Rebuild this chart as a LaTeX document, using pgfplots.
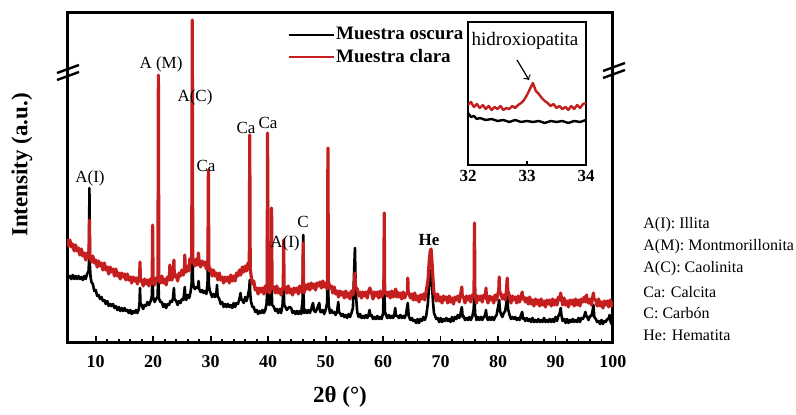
\documentclass[border=0pt]{standalone}
\usepackage{fontspec}
\setmainfont{Liberation Serif}
\usepackage{pgfplots}
\pgfplotsset{compat=1.18}
\usepackage{pgfplotstable}
\definecolor{redc}{RGB}{196,30,30}

\pgfplotstableread{
x y
32.00 60
32.05 63
32.10 58
32.15 61
32.20 57
32.25 60
32.30 56
32.35 59
32.40 55
32.45 58
32.50 56
32.55 59
32.60 55
32.65 57
32.70 56
32.75 59
32.80 57
32.85 60
32.90 62
32.95 65
33.00 70
33.05 76
33.10 82
33.15 74
33.20 71
33.25 67
33.30 64
33.35 62
33.40 59
33.45 61
33.50 57
33.55 59
33.60 56
33.65 58
33.70 55
33.75 59
33.80 56
33.85 60
33.90 57
33.95 61
34.00 62
}\redinset

\pgfplotstableread{
x y
32.00 52
32.05 48
32.10 49
32.15 46
32.20 47
32.30 45
32.40 46
32.50 44
32.60 45
32.70 43
32.80 45
32.90 43
33.00 44
33.10 43
33.20 44
33.30 42
33.40 44
33.50 43
33.60 44
33.70 42
33.80 44
33.90 43
34.00 45
}\blackinset

\begin{document}
\begin{tikzpicture}
\begin{scope}[x=0.5pt,y=-0.5pt,shift={(-33.5pt,171.5pt)}]
\useasboundingbox (0,0) rectangle (796,406);
\end{scope}

\begin{axis}[
  at={(0pt,0pt)}, anchor=south west,
  scale only axis, width=273pt, height=165pt,
  xmin=5, xmax=100, ymin=0, ymax=330,
  axis line style={line width=1.5pt},
  xtick={10,20,...,100}, minor x tick num=4,
  xtick pos=left, ytick=\empty,
  tick align=inside,
  major tick length=3.5pt, minor tick length=2pt,
  every tick/.style={black, line width=0.9pt},
  /pgf/number format/assume math mode=true,
  xticklabel style={font=\bfseries\fontsize{9}{10}\selectfont, yshift=-2.5pt},
  legend style={draw=none, fill=none, at={(axis description cs:0.403,0.962)}, anchor=north west,
    inner sep=0pt, row sep=2pt, nodes={inner sep=0.6pt}, font=\bfseries\fontsize{9.5}{10}\selectfont, cells={anchor=west}},
  legend image code/.code={\draw[#1, line width=1.3pt] (0pt,0pt) -- (22.5pt,0pt);},
]
\addplot[black, line width=1.3pt, line join=round] coordinates {
(5.00,68) (5.25,65) (5.50,67) (5.75,64) (6.00,68) (6.25,64) (6.50,67) (6.75,64)
(7.00,67) (7.25,64) (7.50,66) (7.75,63) (8.00,67) (8.25,64) (8.50,69) (8.75,72)
(8.82,80) (8.90,155) (8.98,78) (9.10,66) (9.25,61) (9.50,59) (9.75,52)
(10.00,53) (10.25,47) (10.50,48) (10.75,44) (11.00,46) (11.25,42) (11.50,43) (11.75,39)
(12.00,42) (12.25,37) (12.50,39) (12.75,37) (13.00,39) (13.25,35) (13.50,37) (13.75,33)
(14.00,36) (14.25,32) (14.50,35) (14.75,32) (15.00,35) (15.25,32) (15.50,33) (15.75,30)
(16.00,33) (16.25,29) (16.50,32) (16.75,30) (17.00,33) (17.25,30) (17.50,34)
(17.62,40) (17.70,55) (17.78,40) (18.00,38) (18.25,34) (18.50,38) (18.75,37)
(19.00,41) (19.25,38) (19.50,41) (19.75,46) (19.90,70) (19.98,46) (20.25,41) (20.50,44)
(20.75,46) (20.90,70) (20.98,45) (21.25,41) (21.50,41) (21.75,36)
(22.00,39) (22.25,35) (22.50,39) (22.75,38) (23.00,42) (23.25,41) (23.45,45) (23.60,55) (23.70,44)
(24.00,42) (24.25,38) (24.50,42) (24.75,40) (25.00,44) (25.25,43) (25.50,56) (25.60,46) (25.75,43)
(26.00,48) (26.25,45) (26.50,51) (26.70,60) (26.80,126) (26.90,65) (27.00,57) (27.25,54) (27.50,56)
(27.75,55) (27.90,62) (28.00,54) (28.25,51) (28.50,53) (28.75,50) (29.00,52) (29.25,49)
(29.45,60) (29.60,103) (29.70,58) (29.85,52) (30.00,50) (30.25,46) (30.50,49) (30.75,46)
(31.00,50) (31.10,58) (31.20,47) (31.50,44) (31.75,39) (32.00,41) (32.25,36) (32.50,39) (32.75,36)
(33.00,39) (33.25,36) (33.50,38) (33.75,35) (34.00,40) (34.25,36) (34.50,40) (34.75,39)
(35.00,44) (35.20,50) (35.35,43) (35.50,43) (35.75,40) (36.00,46) (36.25,42) (36.50,48)
(36.72,55) (36.80,63) (36.88,50) (37.00,42) (37.25,36) (37.50,36) (37.75,31)
(38.00,33) (38.25,29) (38.50,32) (38.75,30) (39.00,33) (39.25,30) (39.50,33) (39.75,40)
(39.82,60) (39.90,175) (39.98,55) (40.20,38) (40.50,42) (40.60,56) (40.70,38)
(41.00,36) (41.25,32) (41.50,34) (41.75,30) (42.00,34) (42.25,30) (42.50,38) (42.70,58) (42.80,38)
(43.00,36) (43.25,33) (43.50,35) (43.75,36) (44.00,35) (44.25,30) (44.50,32) (44.75,29)
(45.00,32) (45.25,29) (45.50,32) (45.75,29) (46.02,45) (46.10,108) (46.18,45) (46.25,30) (46.50,33) (46.75,30)
(47.00,33) (47.25,30) (47.50,34) (47.80,40) (48.00,32) (48.25,31) (48.50,34) (48.75,38) (48.90,40) (49.05,31)
(49.25,31) (49.50,33) (49.75,29) (50.00,33) (50.25,40) (50.40,106) (50.50,40) (50.75,30)
(51.00,33) (51.25,30) (51.50,31) (51.75,28) (52.00,32) (52.20,41) (52.35,30) (52.50,30) (52.75,27)
(53.00,29) (53.25,26) (53.50,28) (53.75,25) (54.00,29) (54.25,26) (54.50,30) (54.75,35)
(54.95,70) (55.10,95) (55.25,50) (55.50,31) (55.75,26) (56.00,29) (56.25,25) (56.50,27) (56.75,25)
(57.00,28) (57.25,25) (57.50,29) (57.65,33) (57.80,27) (58.00,28) (58.25,24) (58.50,26) (58.75,24)
(59.00,27) (59.25,24) (59.50,26) (59.75,24) (60.00,30) (60.20,76) (60.30,32) (60.50,28) (60.75,25)
(61.00,28) (61.25,25) (61.50,27) (61.75,25) (62.00,30) (62.10,35) (62.25,27) (62.50,27) (62.75,25)
(63.00,28) (63.25,25) (63.50,27) (63.75,25) (64.00,29) (64.30,40) (64.45,27) (64.75,23)
(65.00,25) (65.25,22) (65.50,23) (65.75,20) (66.00,24) (66.25,20) (66.50,24) (66.75,22)
(67.00,26) (67.25,23) (67.50,27) (67.80,40) (68.00,58) (68.20,70) (68.35,73) (68.50,58) (68.70,40) (68.85,30)
(69.00,28) (69.25,24) (69.50,25) (69.75,21) (70.00,25) (70.25,21) (70.50,24) (70.75,22)
(71.00,25) (71.25,22) (71.50,24) (71.75,21) (72.00,26) (72.25,22) (72.50,26) (72.75,24)
(73.00,28) (73.25,25) (73.50,30) (73.70,36) (73.85,26) (74.00,27) (74.25,23) (74.50,25) (74.75,23)
(75.00,26) (75.25,23) (75.50,26) (75.75,33) (75.90,50) (76.00,30) (76.25,23) (76.50,26) (76.75,23)
(77.00,26) (77.25,23) (77.50,26) (77.75,28) (77.90,33) (78.05,25) (78.25,23) (78.50,26) (78.75,23)
(79.00,26) (79.25,23) (79.50,26) (79.75,28) (80.00,36) (80.20,43) (80.35,32) (80.50,29) (80.75,26)
(81.00,30) (81.25,32) (81.45,40) (81.60,46) (81.75,34) (82.00,28) (82.25,24) (82.50,26) (82.75,24)
(83.00,26) (83.25,23) (83.50,25) (83.75,23) (84.00,28) (84.20,31) (84.35,24) (84.50,25) (84.75,22)
(85.00,25) (85.25,22) (85.50,24) (85.75,21) (86.00,25) (86.25,21) (86.50,23) (86.75,21)
(87.00,24) (87.25,21) (87.50,23) (87.75,21) (88.00,25) (88.25,21) (88.50,23) (88.75,21)
(89.00,24) (89.25,21) (89.50,24) (89.75,21) (90.00,26) (90.25,22) (90.50,27) (90.75,30) (90.90,35) (91.05,27)
(91.25,22) (91.50,24) (91.75,20) (92.00,24) (92.25,20) (92.50,23) (92.75,21)
(93.00,24) (93.25,21) (93.50,23) (93.75,21) (94.00,25) (94.25,21) (94.50,25) (94.75,24)
(95.00,27) (95.20,31) (95.35,27) (95.50,26) (95.75,23) (96.00,27) (96.25,27) (96.45,32) (96.60,38) (96.75,26)
(97.00,24) (97.25,21) (97.50,22) (97.75,19) (98.00,23) (98.25,19) (98.50,22) (98.75,21)
(99.00,24) (99.25,24) (99.40,28) (99.55,22) (99.75,19) (100.00,22)
};
\addlegendentry{Muestra oscura}
\addplot[redc, line width=1.6pt, line join=round] coordinates {
(5.00,104) (5.25,97) (5.50,103) (5.75,96) (6.00,99) (6.25,92) (6.50,98) (6.75,92)
(7.00,95) (7.25,88) (7.50,94) (7.75,87) (8.00,90) (8.25,83) (8.50,90) (8.75,85)
(8.82,88) (8.90,123) (8.98,88) (9.25,81) (9.50,87) (9.75,80)
(10.00,83) (10.25,76) (10.50,82) (10.75,77) (11.00,80) (11.25,73) (11.50,80) (11.75,73)
(12.00,76) (12.25,69) (12.50,76) (12.75,71) (13.00,74) (13.25,67) (13.50,74) (13.75,67)
(14.00,70) (14.25,64) (14.50,70) (14.75,66) (15.00,69) (15.25,63) (15.50,69) (15.75,63)
(16.00,66) (16.25,60) (16.50,66) (16.75,62) (17.00,65) (17.25,59) (17.50,66)
(17.62,62) (17.70,81) (17.78,62) (18.00,63) (18.25,57) (18.50,64) (18.75,59)
(19.00,63) (19.25,57) (19.50,64) (19.75,59) (19.82,61) (19.90,118) (19.98,62)
(20.25,58) (20.50,65) (20.75,62) (20.82,64) (20.90,268) (20.98,64)
(21.25,60) (21.50,67) (21.75,60) (22.00,64) (22.25,58) (22.50,66) (22.75,63)
(22.82,66) (22.90,78) (22.98,64) (23.25,63) (23.50,70) (23.60,83) (23.68,66)
(24.00,68) (24.25,62) (24.50,70) (24.75,67) (25.00,73) (25.25,68) (25.42,72) (25.50,88) (25.58,72) (25.75,71)
(26.00,77) (26.25,72) (26.35,84) (26.50,81) (26.70,80) (26.80,323) (26.88,82)
(27.00,83) (27.25,77) (27.50,84) (27.75,78) (27.85,90) (28.00,82) (28.25,76) (28.50,82) (28.75,78)
(29.00,81) (29.25,74) (29.40,80) (29.52,80) (29.60,173) (29.68,78) (29.75,72)
(30.00,74) (30.25,67) (30.50,73) (30.75,67) (31.00,70) (31.25,63) (31.50,70) (31.75,63)
(32.00,66) (32.25,60) (32.50,66) (32.75,62) (33.00,66) (33.25,60) (33.50,68) (33.75,62)
(34.00,67) (34.25,62) (34.50,70) (34.75,67) (35.00,73) (35.25,68) (35.50,76) (35.75,71)
(36.00,77) (36.25,72) (36.50,80) (36.72,78) (36.80,208) (36.88,74)
(37.00,69) (37.25,59) (37.50,62) (37.75,53) (38.00,55) (38.25,49) (38.50,55) (38.75,51)
(39.00,55) (39.25,49) (39.50,57) (39.75,51) (39.82,55) (39.90,210) (39.98,56)
(40.25,50) (40.50,57) (40.60,135) (40.68,54)
(41.00,56) (41.25,50) (41.50,57) (41.75,50) (42.00,54) (42.25,48) (42.50,55)
(42.62,54) (42.70,103) (42.78,54)
(43.00,56) (43.25,50) (43.50,57) (43.75,50) (44.00,54) (44.25,48) (44.50,55) (44.75,51)
(45.00,55) (45.25,49) (45.50,57) (45.75,51) (46.02,55) (46.10,100) (46.18,55) (46.25,50) (46.50,58) (46.75,54)
(47.00,59) (47.25,53) (47.50,60) (47.75,55) (48.00,59) (48.25,53) (48.50,60) (48.75,57)
(49.00,61) (49.25,55) (49.50,62) (49.75,56) (50.00,60) (50.25,54) (50.32,62) (50.40,195) (50.48,62) (50.75,55)
(51.00,57) (51.25,50) (51.50,56) (51.75,49) (52.00,52) (52.25,46) (52.50,52) (52.75,48)
(53.00,51) (53.25,45) (53.50,52) (53.75,46) (54.00,50) (54.25,44) (54.50,52) (54.75,48)
(55.00,58) (55.10,70) (55.20,56) (55.50,54) (55.75,47)
(56.00,51) (56.25,45) (56.50,51) (56.75,47) (57.00,51) (57.25,45) (57.50,52) (57.70,55)
(58.00,50) (58.25,44) (58.50,51) (58.75,47) (59.00,51) (59.25,45) (59.50,52) (59.75,46)
(60.00,50) (60.12,52) (60.20,130) (60.28,50) (60.50,51) (60.75,47)
(61.00,51) (61.25,45) (61.50,52) (61.75,46) (62.00,50) (62.20,54) (62.35,46) (62.50,51) (62.75,46)
(63.00,50) (63.25,44) (63.50,51) (63.75,45) (64.00,49) (64.22,50) (64.30,65) (64.38,49) (64.50,50) (64.75,45)
(65.00,49) (65.25,43) (65.50,50) (65.75,43) (66.00,47) (66.25,41) (66.50,48) (66.75,44)
(67.00,49) (67.25,43) (67.50,52) (67.80,62) (68.00,80) (68.20,92) (68.35,94) (68.50,82) (68.70,62) (68.85,50)
(69.00,49) (69.25,42) (69.50,49) (69.75,42) (70.00,46) (70.25,40) (70.50,47) (70.75,43)
(71.00,46) (71.25,40) (71.50,47) (71.75,41) (72.00,45) (72.25,39) (72.50,46) (72.75,43)
(73.00,47) (73.25,41) (73.50,49) (73.70,56) (73.78,46) (74.00,46) (74.25,40) (74.50,47) (74.75,43)
(75.00,47) (75.25,41) (75.50,48) (75.75,46) (75.82,50) (75.90,120) (75.98,50) (76.25,40) (76.50,47) (76.75,43)
(77.00,47) (77.25,41) (77.50,48) (77.75,45) (77.82,47) (77.90,55) (77.98,46) (78.25,40) (78.50,47) (78.75,43)
(79.00,46) (79.25,40) (79.50,48) (79.75,43) (80.00,50) (80.12,52) (80.20,66) (80.28,52) (80.50,49) (80.75,44)
(81.00,48) (81.25,43) (81.45,52) (81.60,65) (81.70,52) (82.00,47) (82.25,40) (82.50,47) (82.75,43)
(83.00,46) (83.25,40) (83.50,47) (83.75,41) (84.00,46) (84.20,51) (84.28,44) (84.50,46) (84.75,41)
(85.00,45) (85.25,39) (85.50,46) (85.75,39) (86.00,43) (86.25,37) (86.50,44) (86.75,39)
(87.00,43) (87.25,37) (87.50,44) (87.75,38) (88.00,42) (88.25,36) (88.50,43) (88.75,39)
(89.00,43) (89.25,37) (89.50,44) (89.75,38) (90.00,43) (90.25,38) (90.50,46) (90.75,43) (90.90,50) (91.00,46)
(91.25,38) (91.50,45) (91.75,38) (92.00,42) (92.25,36) (92.50,43) (92.75,39)
(93.00,43) (93.25,37) (93.50,44) (93.75,38) (94.00,43) (94.25,37) (94.50,44) (94.75,41)
(95.00,46) (95.25,41) (95.40,48) (95.50,43) (95.75,40) (96.00,44) (96.25,38) (96.50,47) (96.60,50) (96.70,44)
(97.00,43) (97.25,37) (97.50,44) (97.75,37) (98.00,41) (98.25,35) (98.50,42) (98.75,38)
(99.00,42) (99.25,36) (99.50,43) (99.75,37) (100.00,41)
};
\addlegendentry{Muestra clara}
\end{axis}

\begin{axis}[
  at={(200.5pt,89pt)}, anchor=south west,
  scale only axis, width=59pt, height=71.5pt,
  xmin=32, xmax=34, ymin=0, ymax=143,
  axis line style={line width=1pt},
  axis background/.style={fill=white},
  xtick={32,33,34}, xtick pos=left, ytick=\empty,
  tick align=inside, major tick length=2pt,
  every tick/.style={black, line width=0.8pt},
  /pgf/number format/assume math mode=true,
  xticklabel style={font=\bfseries\fontsize{8.5}{10}\selectfont, yshift=1pt},
]
\addplot[black, line width=1.2pt, line join=round] table[x=x,y=y] {\blackinset};
\addplot[redc, line width=1.2pt, line join=round] table[x=x,y=y] {\redinset};
\end{axis}

\begin{scope}[x=0.5pt,y=-0.5pt,shift={(-33.5pt,171.5pt)}]
% axis breaks
\draw[line width=1.2pt] (57,73) -- (79,65);
\draw[line width=1.2pt] (57,80) -- (79,72);
\draw[line width=1.2pt] (603,71) -- (625,63);
\draw[line width=1.2pt] (603,78) -- (625,70);
% y label
\node[rotate=90, font=\bfseries\fontsize{11.5}{12}\selectfont] at (22,165) {Intensity (a.u.)};
% x label
\node[font=\bfseries\fontsize{11.5}{12}\selectfont] at (340,397) {2θ (°)};
% peak labels
\begin{scope}[every node/.style={font=\fontsize{8.5}{10}\selectfont, inner sep=0pt}]
\node at (90,178) {A(I)};
\node at (161,64) {A (M)};
\node at (195,97) {A(C)};
\node at (206,166) {Ca};
\node at (246,128) {Ca};
\node at (268,123) {Ca};
\node at (285,243) {A(I)};
\node at (303,222) {C};
\node[font=\bfseries\fontsize{8.5}{10}\selectfont] at (429,240) {He};
\end{scope}
% inset annotation
\node[font=\fontsize{9.5}{10}\selectfont, inner sep=0pt] at (525,41) {hidroxiopatita};
\draw[->, line width=0.6pt] (517,60) -- (529,80);
% right key
\begin{scope}[every node/.style={font=\fontsize{8}{10}\selectfont, anchor=west, inner sep=0pt}]
\node at (643,225) {A(I): Illita};
\node at (643,247) {A(M): Montmorillonita};
\node at (643,269) {A(C): Caolinita};
\node at (643,292) {Ca: Calcita};
\node at (643,313) {C: Carbón};
\node at (643,335) {He: Hematita};
\end{scope}
\end{scope}
\end{tikzpicture}
\end{document}
